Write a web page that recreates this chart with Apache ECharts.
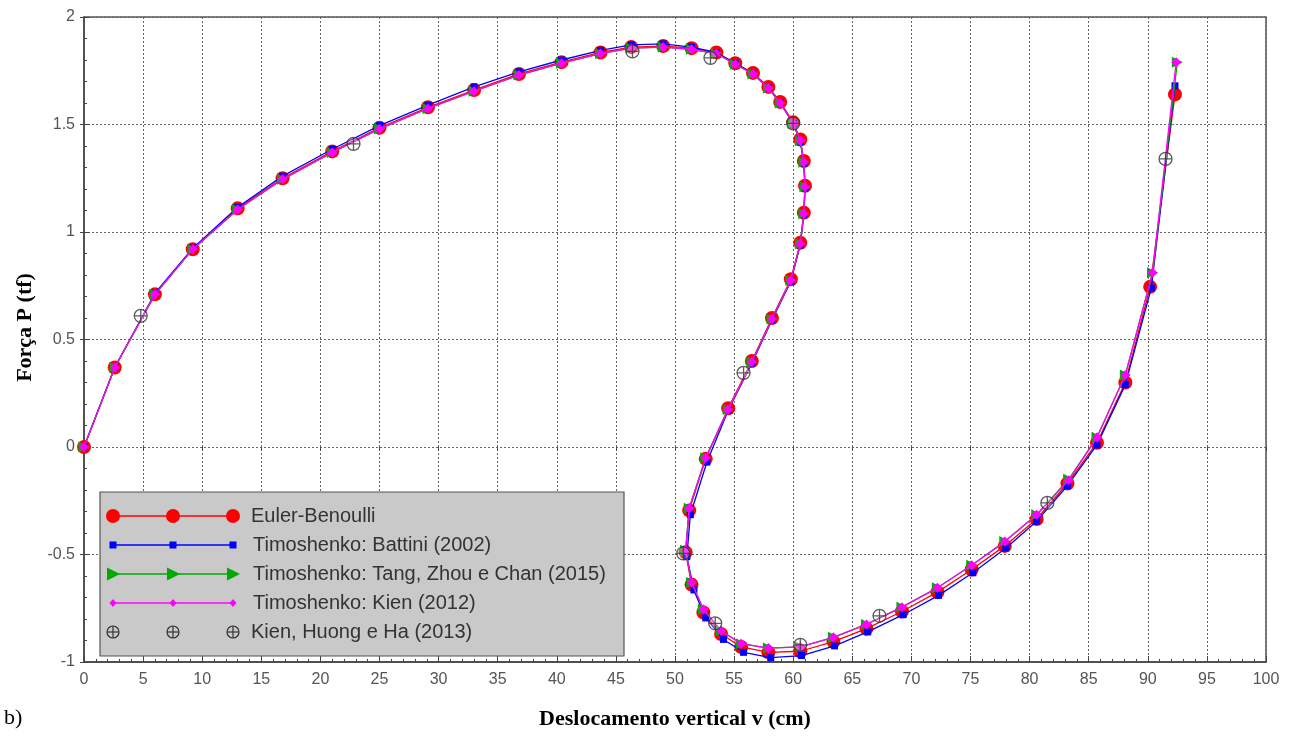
<!DOCTYPE html>
<html>
<head>
<meta charset="utf-8">
<script src="https://cdn.jsdelivr.net/npm/echarts@6/dist/echarts.min.js"></script>
<style>html,body{margin:0;padding:0;background:#fff}#c{width:1296px;height:744px}</style>
</head>
<body>
<div id="c"></div>
<script>
// ---- data ----
const xTicks = [0,5,10,15,20,25,30,35,40,45,50,55,60,65,70,75,80,85,90,95,100];
const yTicks = [-1,-0.5,0,0.5,1,1.5,2];

const ebName = "Euler-Benoulli";
const ebX = [0,2.6,6,9.2,13,16.8,21,25,29.1,33,36.8,40.4,43.7,46.3,49,51.4,53.5,55.1,56.6,57.9,58.9,60,60.6,60.9,61,60.9,60.6,59.8,58.2,56.5,54.5,52.6,51.2,50.9,51.4,52.4,53.9,55.6,57.9,60.6,63.4,66.2,69.2,72.2,75.1,77.9,80.6,83.2,85.7,88.1,90.2,92.3];
const ebY = [0,0.37,0.71,0.92,1.11,1.25,1.375,1.485,1.58,1.66,1.735,1.79,1.835,1.86,1.865,1.855,1.835,1.785,1.74,1.675,1.605,1.51,1.43,1.33,1.215,1.09,0.95,0.78,0.6,0.4,0.18,-0.055,-0.295,-0.49,-0.64,-0.77,-0.87,-0.93,-0.955,-0.95,-0.905,-0.845,-0.765,-0.675,-0.57,-0.46,-0.335,-0.17,0.02,0.3,0.745,1.64];

const btName = "Timoshenko: Battini (2002)";
const btX = [0,2.6,6,9.2,13,16.8,21,25,29.1,33,36.8,40.4,43.7,46.3,49,51.4,53.5,55.1,56.6,57.9,58.9,60,60.6,60.9,61,60.9,60.6,59.8,58.2,56.5,54.5,52.7,51.3,51.0,51.6,52.6,54.1,55.8,58.1,60.7,63.5,66.3,69.3,72.3,75.2,78.0,80.6,83.2,85.7,88.1,90.3,92.3];
const btY = [0,0.37,0.715,0.925,1.115,1.26,1.385,1.495,1.59,1.675,1.745,1.8,1.845,1.87,1.875,1.86,1.835,1.785,1.735,1.67,1.6,1.505,1.42,1.32,1.205,1.08,0.94,0.77,0.59,0.39,0.17,-0.07,-0.315,-0.51,-0.665,-0.795,-0.895,-0.955,-0.98,-0.97,-0.925,-0.86,-0.78,-0.69,-0.585,-0.47,-0.345,-0.18,0.01,0.29,0.74,1.68];

const tzName = "Timoshenko: Tang, Zhou e Chan (2015)";
const tzX = [0,2.6,6,9.2,13,16.8,21,25,29.1,33,36.8,40.4,43.7,46.3,49,51.4,53.5,55.1,56.6,57.9,58.9,60,60.6,60.9,61,60.9,60.6,59.8,58.2,56.5,54.5,52.6,51.2,50.9,51.4,52.4,53.9,55.6,57.9,60.6,63.4,66.2,69.2,72.2,75.1,77.9,80.6,83.3,85.7,88.1,90.4,92.5];
const tzY = [0,0.37,0.71,0.92,1.105,1.245,1.37,1.48,1.575,1.655,1.73,1.785,1.83,1.855,1.86,1.85,1.83,1.78,1.735,1.67,1.6,1.505,1.425,1.325,1.21,1.085,0.945,0.775,0.595,0.395,0.175,-0.05,-0.285,-0.48,-0.63,-0.755,-0.855,-0.915,-0.935,-0.93,-0.885,-0.825,-0.745,-0.655,-0.55,-0.44,-0.315,-0.15,0.045,0.335,0.81,1.79];

const knName = "Timoshenko: Kien (2012)";
const knX = [0,2.6,6,9.2,13,16.8,21,25,29.1,33,36.8,40.4,43.7,46.3,49,51.4,53.5,55.1,56.6,57.9,58.9,60,60.6,60.9,61,60.9,60.6,59.8,58.2,56.5,54.5,52.6,51.2,50.9,51.4,52.4,53.9,55.6,57.9,60.6,63.4,66.2,69.2,72.2,75.1,77.9,80.6,83.3,85.7,88.1,90.4,92.4];
const knY = [0,0.37,0.71,0.92,1.105,1.245,1.37,1.48,1.575,1.655,1.73,1.785,1.83,1.855,1.86,1.85,1.83,1.78,1.735,1.67,1.6,1.505,1.425,1.325,1.21,1.085,0.945,0.775,0.595,0.395,0.175,-0.05,-0.285,-0.48,-0.63,-0.755,-0.855,-0.915,-0.935,-0.93,-0.885,-0.825,-0.745,-0.655,-0.55,-0.44,-0.315,-0.155,0.045,0.335,0.81,1.79];

const khName = "Kien, Huong e Ha (2013)";
const khX = [4.8,22.8,46.4,53.0,60.0,55.8,50.7,53.4,60.6,67.3,81.5,91.5];
const khY = [0.61,1.41,1.84,1.81,1.505,0.345,-0.495,-0.82,-0.92,-0.785,-0.26,1.34];

// ---- styles ----
const zip = (xs, ys) => xs.map((x, i) => [x, ys[i]]);
const triRight = 'path://M0,0 L10,5 L0,10 Z';
const crossCircle = 'path://M10,0 A10,10 0 1,1 9.99,0 Z M10,0 L10,20 M0,10 L20,10';

const seriesDefs = [
  {name: ebName, data: zip(ebX, ebY), color: '#ff0000', symbol: 'circle', size: 14},
  {name: btName, data: zip(btX, btY), color: '#0000ff', symbol: 'rect', size: 7},
  {name: tzName, data: zip(tzX, tzY), color: '#00aa00', symbol: triRight, size: 11},
  {name: knName, data: zip(knX, knY), color: '#ff00ff', symbol: 'diamond', size: 10},
];

const series = seriesDefs.map((d, i) => ({
  name: d.name, type: 'line', data: d.data,
  symbol: d.symbol, symbolSize: d.size, symbolKeepAspect: true,
  showAllSymbol: true, z: 2 + i,
  lineStyle: {color: d.color, width: 1.3},
  itemStyle: {color: d.color, borderWidth: 0},
  emphasis: {disabled: true}
}));
series.push({
  name: khName, type: 'scatter', data: zip(khX, khY),
  symbol: crossCircle, symbolSize: 13, symbolKeepAspect: true,
  itemStyle: {color: 'rgba(255,255,255,0.3)', borderColor: '#333', borderWidth: 1.3},
  z: 8, emphasis: {disabled: true}
});

// ---- legend (graphic) ----
const LX = 100, LY = 492, LW = 524, LH = 164, rowH = 29;
const legendEls = [{type: 'rect', shape: {x: LX, y: LY, width: LW, height: LH},
  style: {fill: '#c9c9c9', stroke: '#555', lineWidth: 1.2}}];
const names = [ebName, btName, tzName, knName, khName];
const colors = ['#ff0000', '#0000ff', '#00aa00', '#ff00ff', '#333'];
const textX = [251, 253, 253, 253, 251];
names.forEach((nm, i) => {
  const cy = LY + 24 + i * rowH;
  const xs = [LX + 13, LX + 73, LX + 133];
  if (i < 4) legendEls.push({type: 'line', shape: {x1: xs[0], y1: cy, x2: xs[2], y2: cy}, style: {stroke: colors[i], lineWidth: 1.3}});
  xs.forEach(x => {
    if (i === 0) legendEls.push({type: 'circle', shape: {cx: x, cy: cy, r: 7}, style: {fill: colors[i]}});
    if (i === 1) legendEls.push({type: 'rect', shape: {x: x - 3.5, y: cy - 3.5, width: 7, height: 7}, style: {fill: colors[i]}});
    if (i === 2) legendEls.push({type: 'polygon', shape: {points: [[x - 6, cy - 6.5], [x + 7, cy], [x - 6, cy + 6.5]]}, style: {fill: colors[i]}});
    if (i === 3) legendEls.push({type: 'polygon', shape: {points: [[x, cy - 4], [x + 3.5, cy], [x, cy + 4], [x - 3.5, cy]]}, style: {fill: colors[i]}});
    if (i === 4) {
      legendEls.push({type: 'circle', shape: {cx: x, cy: cy, r: 6}, style: {fill: 'none', stroke: '#333', lineWidth: 1.2}});
      legendEls.push({type: 'line', shape: {x1: x - 6, y1: cy, x2: x + 6, y2: cy}, style: {stroke: '#333', lineWidth: 1.2}});
      legendEls.push({type: 'line', shape: {x1: x, y1: cy - 6, x2: x, y2: cy + 6}, style: {stroke: '#333', lineWidth: 1.2}});
    }
  });
  legendEls.push({type: 'text', x: textX[i], y: cy, style: {text: nm, fill: '#333', font: '20px "Liberation Sans", Arial, sans-serif', textVerticalAlign: 'middle'}});
});
legendEls.push({type: 'text', x: 4, y: 718, style: {text: 'b)', fill: '#000', font: '22px "Liberation Serif", "Times New Roman", serif', textVerticalAlign: 'middle'}});

const serif = '"Liberation Serif", "Times New Roman", serif';
const sans = '"Liberation Sans", Arial, sans-serif';
const chart = echarts.init(document.getElementById('c'));
chart.setOption({
  animation: false,
  backgroundColor: '#fff',
  grid: {left: 84, right: 30, top: 17, bottom: 82, show: true, borderColor: '#555', borderWidth: 1.5, backgroundColor: 'transparent'},
  xAxis: [{
    type: 'value', min: xTicks[0], max: xTicks[xTicks.length - 1], interval: 5,
    name: 'Deslocamento vertical v (cm)', nameLocation: 'middle', nameGap: 46,
    nameTextStyle: {fontFamily: serif, fontWeight: 'bold', fontSize: 22, color: '#000'},
    axisLine: {onZero: false, lineStyle: {color: '#444', width: 1.5}},
    axisTick: {inside: true, length: 6, lineStyle: {color: '#444'}},
    minorTick: {show: true, splitNumber: 5, length: 3, lineStyle: {color: '#444'}},
    axisLabel: {color: '#555', fontSize: 16, fontFamily: sans, margin: 10},
    splitLine: {show: true, lineStyle: {color: '#666', type: [2, 2], width: 1}}
  }, {
    type: 'value', position: 'bottom', offset: 0, min: xTicks[0], max: xTicks[xTicks.length - 1], interval: 5,
    axisLine: {show: false}, axisLabel: {show: false}, splitLine: {show: false},
    axisTick: {inside: false, length: 4, lineStyle: {color: '#444'}}
  }],
  yAxis: [{
    type: 'value', min: yTicks[0], max: yTicks[yTicks.length - 1], interval: 0.5,
    name: 'Força P (tf)', nameLocation: 'middle', nameGap: 46,
    nameTextStyle: {fontFamily: serif, fontWeight: 'bold', fontSize: 22, color: '#000', padding: [0, 0, 0, 24]},
    axisLine: {onZero: false, lineStyle: {color: '#444', width: 1.5}},
    axisTick: {inside: true, length: 6, lineStyle: {color: '#444'}},
    minorTick: {show: true, splitNumber: 5, length: 3, lineStyle: {color: '#444'}},
    axisLabel: {color: '#555', fontSize: 16, fontFamily: sans, margin: 9},
    splitLine: {show: true, lineStyle: {color: '#666', type: [2, 2], width: 1}}
  }, {
    type: 'value', position: 'left', offset: 0, min: yTicks[0], max: yTicks[yTicks.length - 1], interval: 0.5,
    axisLine: {show: false}, axisLabel: {show: false}, splitLine: {show: false},
    axisTick: {inside: false, length: 4, lineStyle: {color: '#444'}}
  }],
  series: series,
  graphic: {elements: legendEls.map(e => Object.assign({z: 100}, e))}
});
</script>
</body>
</html>
